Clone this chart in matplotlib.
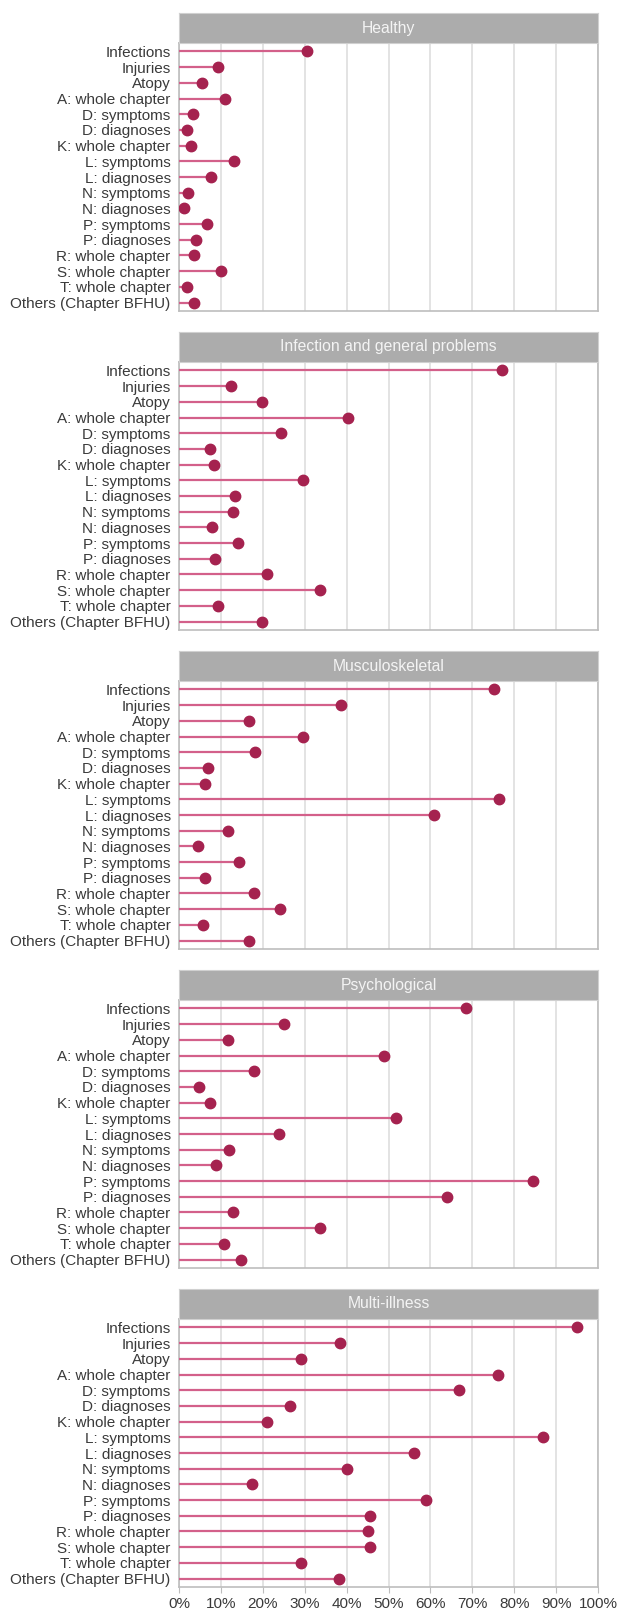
import numpy as np
import matplotlib
matplotlib.use('Agg')
import matplotlib.pyplot as plt

plt.rcParams['font.family'] = ['Liberation Sans', 'DejaVu Sans']

categories = ['Infections', 'Injuries', 'Atopy', 'A: whole chapter', 'D: symptoms',
              'D: diagnoses', 'K: whole chapter', 'L: symptoms', 'L: diagnoses',
              'N: symptoms', 'N: diagnoses', 'P: symptoms', 'P: diagnoses',
              'R: whole chapter', 'S: whole chapter', 'T: whole chapter',
              'Others (Chapter BFHU)']

groups = ['Healthy', 'Infection and general problems', 'Musculoskeletal',
          'Psychological', 'Multi-illness']

healthy = [30.5, 9.2, 5.6, 10.9, 3.4, 1.9, 2.8, 13.1, 7.6, 2.1, 1.1, 6.8, 4.1, 3.6, 10.0, 1.9, 3.6]
infection_general = [77.1, 12.5, 19.9, 40.4, 24.3, 7.3, 8.4, 29.7, 13.4, 12.8, 7.9, 14.0, 8.6, 20.9, 33.7, 9.3, 19.9]
musculoskeletal = [75.2, 38.7, 16.7, 29.7, 18.2, 6.9, 6.2, 76.3, 60.8, 11.6, 4.5, 14.3, 6.2, 17.8, 24.1, 5.7, 16.7]
psychological = [68.6, 25.0, 11.6, 49.0, 17.9, 4.8, 7.3, 51.8, 23.8, 12.0, 8.9, 84.4, 64.0, 12.8, 33.7, 10.8, 14.9]
multi_illness = [95.1, 38.4, 29.1, 76.2, 66.8, 26.6, 21.0, 86.8, 56.0, 40.0, 17.4, 59.0, 45.5, 45.0, 45.7, 29.1, 38.2]

values = [healthy, infection_general, musculoskeletal, psychological, multi_illness]

W, H = 617, 1610
fig = plt.figure(figsize=(W / 100, H / 100), dpi=100)

line_col = '#d3608a'
dot_col = '#a5224f'
strip_col = '#acacac'
border_col = '#bdbdbd'
grid_col = '#dedede'
text_col = '#3a3a3a'

x0, x1 = 179, 598
y = np.arange(len(categories))

for i, (g, v) in enumerate(zip(groups, values)):
    top = 13 + 319 * i
    ax = fig.add_axes([x0 / W, 1 - (top + 298) / H, (x1 - x0) / W, 268 / H])
    sax = fig.add_axes([x0 / W, 1 - (top + 30) / H, (x1 - x0) / W, 30 / H])

    ax.hlines(y, 0, v, color=line_col, lw=1.6, zorder=3)
    ax.plot(v, y, 'o', color=dot_col, ms=7.5, zorder=4)
    ax.set_xlim(0, 100)
    ax.set_ylim(16.54, -0.54)
    ax.set_xticks(np.arange(0, 101, 10))
    ax.grid(axis='x', color=grid_col, lw=1.2, zorder=0)
    ax.set_yticks(y)
    ax.set_yticklabels(categories, fontsize=11, color=text_col)
    ax.tick_params(axis='y', length=0, pad=6)
    for s in ax.spines.values():
        s.set_color(border_col)
        s.set_linewidth(1.2)
    if i == len(groups) - 1:
        ax.set_xticklabels([f'{t}%' for t in range(0, 101, 10)], fontsize=11, color=text_col)
        ax.tick_params(axis='x', length=4, color=border_col, pad=3)
    else:
        ax.tick_params(axis='x', length=0, labelbottom=False)

    sax.set_facecolor(strip_col)
    sax.set_xticks([])
    sax.set_yticks([])
    for s in sax.spines.values():
        s.set_color('#d0d0d0')
    sax.text(0.5, 0.5, g, color='#f4f4f4', fontsize=11.3, ha='center', va='center',
             transform=sax.transAxes)

fig.savefig('out.png', dpi=100)
